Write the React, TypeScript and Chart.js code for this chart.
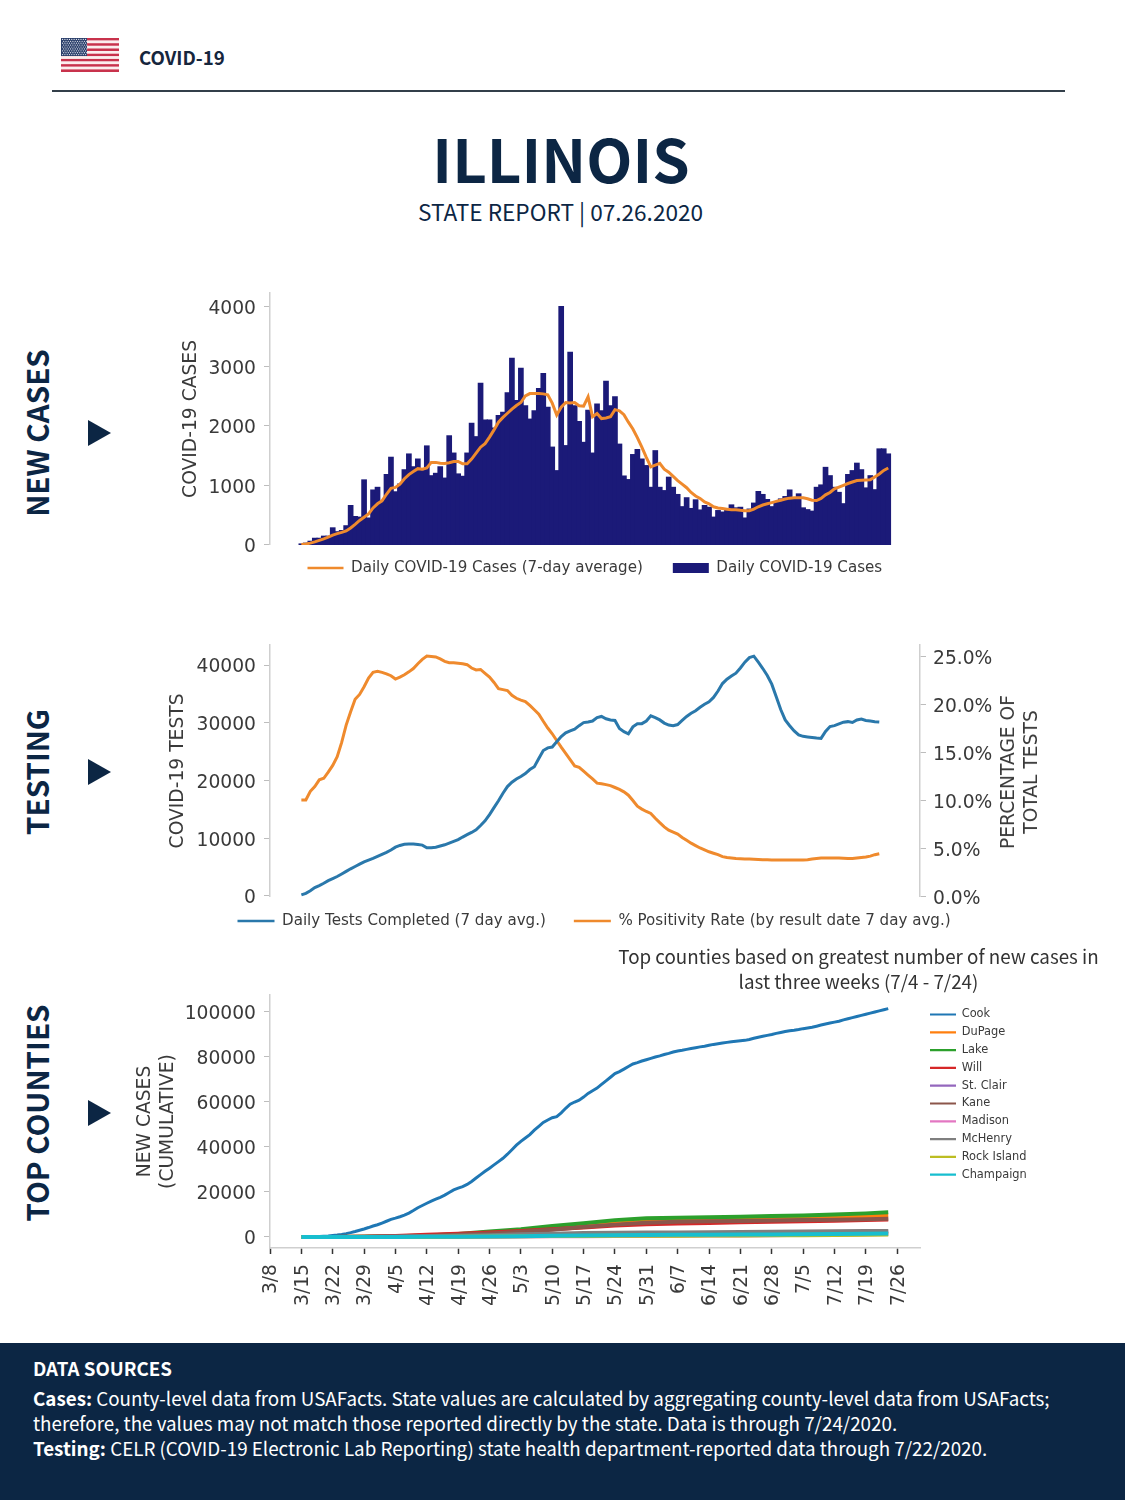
import React, { useEffect, useRef } from "react";
import { Chart, registerables } from "chart.js";

Chart.register(...registerables);

// ---------- data ----------
const weekLabels = ["3/8","3/15","3/22","3/29","4/5","4/12","4/19","4/26","5/3","5/10","5/17","5/24","5/31","6/7","6/14","6/21","6/28","7/5","7/12","7/19","7/26"];
const firstDataDay = 7; // 3/15 counted in days from 3/8

const dailyCases = [15,28,60,110,110,145,145,285,220,240,320,660,475,465,1090,450,920,965,730,1180,1470,890,1020,1260,1525,1310,1440,1245,1660,1160,1200,1310,1120,1830,1540,1190,1150,1540,2040,1815,2710,2095,2095,1960,2170,2225,2550,3130,2420,2965,2335,2110,2250,2625,2875,2310,1640,1245,4000,1665,3230,2335,2070,1720,2260,1540,2365,2250,2745,2335,2485,1690,1155,1095,1515,1600,1440,1330,965,1580,965,910,1135,965,845,640,790,610,755,585,660,630,465,575,550,600,670,620,630,450,600,700,895,845,760,640,715,770,810,920,780,855,620,590,565,965,1005,1300,1160,965,880,690,1180,1245,1370,1260,955,1160,925,1610,1610,1525];
const casesAverage = [5,15,30,50,75,100,130,165,190,210,235,285,345,410,465,520,620,690,740,850,950,965,1020,1110,1180,1230,1280,1270,1290,1385,1385,1370,1365,1380,1400,1400,1360,1360,1440,1540,1640,1700,1810,1930,2060,2140,2210,2280,2340,2390,2500,2540,2540,2540,2535,2520,2380,2180,2310,2390,2380,2390,2335,2330,2485,2150,2205,2120,2130,2150,2270,2250,2185,2060,1945,1800,1640,1470,1310,1340,1370,1270,1220,1150,1080,1020,960,880,820,780,720,690,640,620,610,600,590,590,580,575,575,600,640,670,690,710,730,750,770,785,790,790,790,775,750,745,780,840,880,940,970,1000,1030,1055,1080,1085,1090,1095,1140,1190,1250,1290];

const dailyTests = [174,450,900,1450,1800,2200,2650,3000,3360,3800,4250,4700,5100,5500,5900,6200,6500,6840,7200,7550,7950,8450,8750,8950,9000,8980,8920,8800,8350,8350,8440,8650,8860,9150,9450,9750,10200,10610,11000,11450,12200,13000,14100,15300,16500,17800,18950,19700,20250,20700,21200,21900,22400,23800,25200,25650,25800,26700,27600,28250,28600,28900,29500,30030,30150,30300,30900,31100,30700,30500,30400,29000,28450,28100,29300,29850,29850,30300,31200,30900,30500,29950,29600,29500,29700,30400,31100,31650,32100,32700,33220,33650,34400,35500,36800,37550,38100,38600,39500,40500,41300,41550,40500,39400,38200,36700,34500,32300,30500,29500,28600,27900,27650,27550,27450,27350,27300,28500,29350,29500,29800,30100,30200,30050,30500,30650,30400,30300,30200,30145];
const positivity = [10.1,10.1,11.0,11.5,12.2,12.36,13.0,13.7,14.6,16.1,17.9,19.3,20.6,21.1,21.9,22.8,23.4,23.5,23.4,23.25,23.05,22.7,22.9,23.15,23.45,23.8,24.3,24.75,25.1,25.05,25.0,24.8,24.55,24.4,24.4,24.35,24.3,24.2,23.85,23.65,23.7,23.3,22.9,22.35,21.7,21.6,21.5,21.0,20.7,20.5,20.35,19.95,19.5,19.05,18.3,17.6,17.0,16.3,15.6,14.95,14.3,13.65,13.5,13.1,12.7,12.3,11.85,11.8,11.7,11.6,11.4,11.2,10.95,10.6,10.05,9.45,9.15,8.9,8.7,8.2,7.74,7.3,6.95,6.75,6.55,6.2,5.9,5.6,5.35,5.1,4.9,4.7,4.55,4.4,4.2,4.1,4.05,4.0,3.98,3.96,3.95,3.93,3.9,3.88,3.86,3.85,3.85,3.85,3.85,3.85,3.85,3.85,3.85,3.87,3.95,4.0,4.06,4.06,4.06,4.06,4.06,4.03,3.99,4.0,4.05,4.1,4.15,4.25,4.4,4.5];

const cookCases = [0,40,90,170,270,380,480,650,850,1100,1500,1950,2450,3000,3550,4200,4900,5450,6200,7000,7850,8400,9000,9700,10600,11750,13000,14000,15000,15950,16800,17650,18600,19800,20900,21700,22400,23350,24700,26200,27700,29200,30600,32050,33500,35000,36800,38800,40800,42500,44000,45500,47500,49200,50900,52000,53000,53500,55200,57200,59000,60000,60800,62200,63800,65000,66200,67800,69400,71000,72600,73500,74600,75800,76900,77500,78200,78800,79400,80000,80500,81100,81600,82200,82700,83000,83400,83800,84150,84500,84800,85200,85600,85900,86200,86500,86800,87000,87200,87400,87800,88300,88800,89200,89600,90000,90500,90900,91300,91700,91900,92200,92600,92900,93200,93700,94200,94700,95100,95500,95900,96500,97000,97500,98000,98500,99000,99500,100000,100500,101000,101500];

const countySampleDays = [0,7,14,21,28,35,42,49,56,63,70,77,84,91,98,105,112,119,126,131];
const dupageCases = [0,15,100,280,600,1150,1900,2800,3900,5000,6000,6900,7500,7900,8200,8450,8700,9000,9300,9700];
const lakeCases = [0,20,130,320,650,1350,2500,3500,4900,6100,7500,8300,8600,8750,9000,9300,9600,10050,10500,10950];
const willCases = [0,30,150,480,950,1450,2000,2700,3400,4250,5100,5700,6050,6250,6500,6750,7000,7250,7500,7750];
const stClairCases = [0,5,20,70,130,220,320,420,540,650,760,850,950,1100,1300,1500,1700,1900,2100,2300];
const kaneCases = [0,10,70,220,500,950,1550,2300,3200,4400,5500,6300,6800,7000,7150,7300,7500,7700,7900,8150];
const madisonCases = [0,3,10,30,60,100,160,220,290,360,430,490,540,620,720,830,950,1050,1180,1300];
const mchenryCases = [0,8,40,130,280,500,800,1200,1500,1750,1850,1950,2050,2150,2250,2350,2450,2550,2650,2700];
const rockIslandCases = [0,2,8,20,45,90,170,280,400,480,530,570,610,650,700,760,820,900,980,1060];
const champaignCases = [0,3,10,30,70,130,220,340,500,650,780,880,950,1020,1080,1140,1200,1280,1400,1550];

const casesTicks = [0,1000,2000,3000,4000];
const testsTicks = [0,10000,20000,30000,40000];
const positivityTicks = [0,5,10,15,20,25];
const countyTicks = [0,20000,40000,60000,80000,100000];

// ---------- styles ----------
const NAVY = "#0c2644";
const ORANGE = "#ef8a2d";
const BLUE = "#2a78ab";
const BAR = "#1b1a78";
const TEXT = "#3a3a3a";
const SPINE = "#cfcfcf";
const FAMILY = "'DejaVu Sans'";
const PAGE = "'Noto Sans CJK SC'";
const AXIS_FONT = 18.7;

const daily = (arr: number[]) => arr.map((y, i) => ({ x: firstDataDay + i, y }));
const sampled = (arr: number[]) => arr.map((y, i) => ({ x: firstDataDay + countySampleDays[i], y }));
const setTicks = (values: number[]) => (s: any) => { s.ticks = values.map((value) => ({ value })); };

const placeLegend = (startX: number | null, top: number, left?: number) => ({
  id: "placeLegend",
  afterLayout(chart: any) {
    const l = chart.legend;
    const pad = l.options.labels.padding;
    if (startX !== null) {
      const cur = (l.left + pad + l.right - l.lineWidths[0]) / 2;
      const dx = startX - cur;
      l.left += dx;
      l.right += dx;
    }
    if (left !== undefined) {
      l.left = left - pad;
      l.right = 1125;
      l.bottom = 340;
    }
    l.top = top - pad;
  },
});

// nudges the tick texts a little so they sit where the picture has them
const nudgeTickLabels = {
  id: "nudgeTickLabels",
  beforeDraw(chart: any) {
    Object.values(chart.scales).forEach((scale: any) => {
      if (!scale.options.display) return;
      const items = scale.getLabelItems(chart.chartArea);
      items.forEach((it: any) => {
        const t = it.options.translation;
        if (scale.isHorizontal()) t[0] += 1.5;
        else t[1] += 2.5;
      });
    });
  },
};

const leftAxis = (title: string | string[], left: number, ticks: number[], min: number, max: number) => ({
  position: "left",
  min,
  max,
  afterBuildTicks: setTicks(ticks),
  afterFit: (s: any) => { s.width = 270 - left; },
  border: { color: SPINE, width: 1.5 },
  grid: { drawOnChartArea: false, tickLength: 6, tickColor: "#bdbdbd" },
  ticks: { padding: 8, color: TEXT, font: { family: FAMILY, size: AXIS_FONT }, callback: (v: number) => String(v), autoSkip: false },
  title: { display: true, text: title, color: TEXT, padding: 0, font: { family: FAMILY, size: AXIS_FONT, lineHeight: 1.25 } },
});

const legendLabels = (items: any[], font: number, padding: number, width: number) => ({
  usePointStyle: true,
  pointStyleWidth: width,
  boxHeight: 10,
  padding,
  color: TEXT,
  font: { family: FAMILY, size: font },
  generateLabels: () => items,
});

const line = (text: string, color: string, lw = 2.5, i = 0) => ({
  text, strokeStyle: color, fillStyle: color, lineWidth: lw, pointStyle: "line", datasetIndex: i, fontColor: TEXT,
});

function useChart(build: (c: HTMLCanvasElement) => any) {
  const ref = useRef<HTMLCanvasElement>(null);
  useEffect(() => {
    const chart = build(ref.current as HTMLCanvasElement);
    return () => chart.destroy();
  }, []);
  return ref;
}

const hiddenX = (max: number) => ({ type: "linear", display: false, min: 0, max, offset: false });

const TOP1 = 260;
const TOP2 = 610;
const TOP3 = 960;

function casesChart(c: HTMLCanvasElement) {
  return new Chart(c, {
    type: "bar",
    data: {
      datasets: [
        { type: "line", label: "Daily COVID-19 Cases (7-day average)", data: daily(casesAverage), borderColor: ORANGE, borderWidth: 3, pointRadius: 0, tension: 0 },
        { type: "bar", label: "Daily COVID-19 Cases", data: daily(dailyCases), backgroundColor: BAR, barPercentage: 1, categoryPercentage: 1, borderWidth: 0, inflateAmount: 0.6 },
      ],
    } as any,
    options: {
      responsive: false,
      animation: false,
      layout: { autoPadding: false, padding: { left: 179, top: 293 - TOP1, right: 205 } },
      scales: {
        x: hiddenX(650 / 4.48),
        y: leftAxis("COVID-19 CASES", 179, casesTicks, 0, 4228),
      },
      plugins: {
        tooltip: { enabled: false },
        legend: {
          position: "bottom",
          labels: legendLabels([
            line("Daily COVID-19 Cases (7-day average)", ORANGE, 2.5, 0),
            { text: "Daily COVID-19 Cases", strokeStyle: BAR, fillStyle: BAR, lineWidth: 0, pointStyle: "rect", datasetIndex: 1, fontColor: TEXT },
          ], 15.1, 30, 36),
        },
      },
    } as any,
    plugins: [placeLegend(307.5, 568 - TOP1 - 7.5), nudgeTickLabels],
  } as any);
}

function testingChart(c: HTMLCanvasElement) {
  return new Chart(c, {
    type: "line",
    data: {
      datasets: [
        { label: "Daily Tests Completed (7 day avg.)", data: daily(dailyTests), borderColor: BLUE, borderWidth: 3, pointRadius: 0, tension: 0, yAxisID: "y" },
        { label: "% Positivity Rate (by result date 7 day avg.)", data: daily(positivity), borderColor: ORANGE, borderWidth: 3, pointRadius: 0, tension: 0, yAxisID: "y2" },
      ],
    } as any,
    options: {
      responsive: false,
      animation: false,
      layout: { autoPadding: false, padding: { left: 166, top: 645 - TOP2, right: 60 } },
      scales: {
        x: hiddenX(650 / 4.48),
        y: leftAxis("COVID-19 TESTS", 166, testsTicks, -170, 43480),
        y2: {
          position: "right",
          min: 0,
          max: 26.25,
          afterBuildTicks: setTicks(positivityTicks),
          afterFit: (s: any) => { s.width = 1125 - 60 - 920; },
          border: { color: SPINE, width: 1.5 },
          grid: { drawOnChartArea: false, tickLength: 6, tickColor: "#bdbdbd" },
          ticks: { padding: 7, color: TEXT, font: { family: FAMILY, size: AXIS_FONT }, callback: (v: number) => v.toFixed(1) + "%", autoSkip: false },
        },
      },
      plugins: {
        tooltip: { enabled: false },
        legend: {
          position: "bottom",
          labels: legendLabels([
            line("Daily Tests Completed (7 day avg.)", BLUE, 2.5, 0),
            line("% Positivity Rate (by result date 7 day avg.)", ORANGE, 2.5, 1),
          ], 15.1, 28, 37),
        },
      },
    } as any,
    plugins: [placeLegend(237.5, 921 - TOP2 - 7.5), nudgeTickLabels],
  } as any);
}

const countyColors: [string, string][] = [
  ["Cook", "#1f77b4"], ["DuPage", "#ff7f0e"], ["Lake", "#2ca02c"], ["Will", "#d62728"], ["St. Clair", "#9467bd"],
  ["Kane", "#8c564b"], ["Madison", "#e377c2"], ["McHenry", "#7f7f7f"], ["Rock Island", "#bcbd22"], ["Champaign", "#17becf"],
];
const countySeries = [null, dupageCases, lakeCases, willCases, stClairCases, kaneCases, madisonCases, mchenryCases, rockIslandCases, champaignCases];

function countiesChart(c: HTMLCanvasElement) {
  return new Chart(c, {
    type: "line",
    data: {
      datasets: countyColors.map(([label, color], i) => ({
        label,
        data: i === 0 ? daily(cookCases) : sampled(countySeries[i] as number[]),
        borderColor: color,
        borderWidth: i === 0 ? 3 : 4,
        pointRadius: 0,
        tension: 0,
        order: 20 - i,
      })),
    } as any,
    options: {
      responsive: false,
      animation: false,
      layout: { autoPadding: false, padding: { left: 133, top: 995 - TOP3, right: 205 } },
      scales: {
        x: {
          type: "linear",
          min: 0,
          max: 650 / 4.48,
          afterBuildTicks: setTicks(weekLabels.map((_, i) => i * 7)),
          afterFit: (s: any) => { s.height = 92; },
          border: { color: SPINE, width: 1.5 },
          grid: { drawOnChartArea: false, tickLength: 6, tickColor: "#333333", tickWidth: 1.5 },
          ticks: { padding: 10, minRotation: 90, maxRotation: 90, autoSkip: false, color: TEXT, font: { family: FAMILY, size: AXIS_FONT }, callback: (v: number) => weekLabels[Math.round(v / 7)] },
        },
        y: leftAxis(["NEW CASES", "(CUMULATIVE)"], 133, countyTicks, -4889, 107555),
      },
      plugins: {
        tooltip: { enabled: false },
        legend: {
          position: "chartArea",
          align: "start",
          labels: legendLabels(countyColors.map(([label, color], i) => line(label, color, 2.2, i)), 11.4, 6.4, 26),
        },
      },
    } as any,
    plugins: [placeLegend(null, 1014.5 - TOP3 - 5.7, 930), nudgeTickLabels],
  } as any);
}

// ---------- page furniture ----------
function Flag() {
  const stripes = Array.from({ length: 13 }, (_, i) => i);
  const rows = [0, 1, 2, 3, 4, 5, 6, 7, 8];
  const cols = [0, 1, 2, 3, 4, 5, 6, 7, 8, 9, 10];
  return (
    <svg width={58} height={34} style={{ position: "absolute", left: 61, top: 38 }}>
      {stripes.map((i) => (
        <rect key={i} x={0} y={(i * 34) / 13} width={58} height={34 / 13} fill={i % 2 === 0 ? "#c8324c" : "#fbeeee"} />
      ))}
      <rect x={0} y={0} width={26} height={18} fill="#2b3f6b" />
      {rows.map((r) => cols.map((k) => (
        <circle key={r + "-" + k} cx={1.6 + k * 2.3 + (r % 2 ? 1.1 : 0)} cy={1.4 + r * 1.9} r={0.6} fill="#e8ecf4" />
      )))}
    </svg>
  );
}

const abs = (s: any): any => ({ position: "absolute", whiteSpace: "nowrap", ...s });

function SideLabel({ text, y }: { text: string; y: number }) {
  return (
    <>
      <div style={abs({ left: 35.5, top: y, transform: "translate(-50%,-50%) rotate(-90deg)", fontWeight: 700, fontSize: 29.6, color: NAVY })}>{text}</div>
      <div style={abs({ left: 88, top: y - 13, width: 0, height: 0, borderTop: "13px solid transparent", borderBottom: "13px solid transparent", borderLeft: `23px solid ${NAVY}` })} />
    </>
  );
}

export default function App() {
  const c1 = useChart(casesChart);
  const c2 = useChart(testingChart);
  const c3 = useChart(countiesChart);
  return (
    <div style={{ position: "absolute", left: 0, top: 0, width: 1125, height: 1500, overflow: "hidden", background: "#fff", fontFamily: PAGE }}>
      <Flag />
      <div style={abs({ left: 139, top: 56, transform: "translateY(-50%)", fontWeight: 700, fontSize: 18.7, color: "#16263d" })}>COVID-19</div>
      <div style={abs({ left: 52, top: 89.5, width: 1013, height: 2, background: "#333f4a" })} />
      <div style={abs({ left: 561, top: 156, transform: "translate(-50%,-50%)", fontWeight: 700, fontSize: 60, color: NAVY })}>ILLINOIS</div>
      <div style={abs({ left: 560.5, top: 210.5, transform: "translate(-50%,-50%)", fontSize: 22.6, color: NAVY })}>STATE REPORT | 07.26.2020</div>

      <SideLabel text="NEW CASES" y={433} />
      <SideLabel text="TESTING" y={772} />
      <SideLabel text="TOP COUNTIES" y={1113} />

      <canvas ref={c1} width={1125} height={340} style={{ position: "absolute", left: 0, top: TOP1 }} />
      <canvas ref={c2} width={1125} height={340} style={{ position: "absolute", left: 0, top: TOP2 }} />
      <canvas ref={c3} width={1125} height={380} style={{ position: "absolute", left: 0, top: TOP3 }} />

      <div style={abs({ left: 1018.5, top: 772, transform: "translate(-50%,-50%) rotate(-90deg)", textAlign: "center", fontFamily: FAMILY, fontSize: AXIS_FONT, lineHeight: "23px", color: TEXT })}>
        PERCENTAGE OF<br />TOTAL TESTS
      </div>
      <div style={abs({ left: 858.5, top: 967.5, transform: "translate(-50%,-50%)", textAlign: "center", fontSize: 18.8, lineHeight: "25px", color: "#333" })}>
        Top counties based on greatest number of new cases in<br />last three weeks (7/4 - 7/24)
      </div>

      <div style={{ position: "absolute", left: 0, top: 1343, width: 1125, height: 157, background: NAVY }} />
      <div style={abs({ left: 33, top: 1367, transform: "translateY(-50%)", fontWeight: 700, fontSize: 18.7, color: "#fff" })}>DATA SOURCES</div>
      <div style={abs({ left: 33, top: 1397, transform: "translateY(-50%)", fontSize: 18.8, color: "#fff" })}><b>Cases:</b> County-level data from USAFacts. State values are calculated by aggregating county-level data from USAFacts;</div>
      <div style={abs({ left: 33, top: 1422, transform: "translateY(-50%)", fontSize: 18.8, color: "#fff" })}>therefore, the values may not match those reported directly by the state. Data is through 7/24/2020.</div>
      <div style={abs({ left: 33, top: 1447, transform: "translateY(-50%)", fontSize: 18.8, color: "#fff" })}><b>Testing:</b> CELR (COVID-19 Electronic Lab Reporting) state health department-reported data through 7/22/2020.</div>
    </div>
  );
}
